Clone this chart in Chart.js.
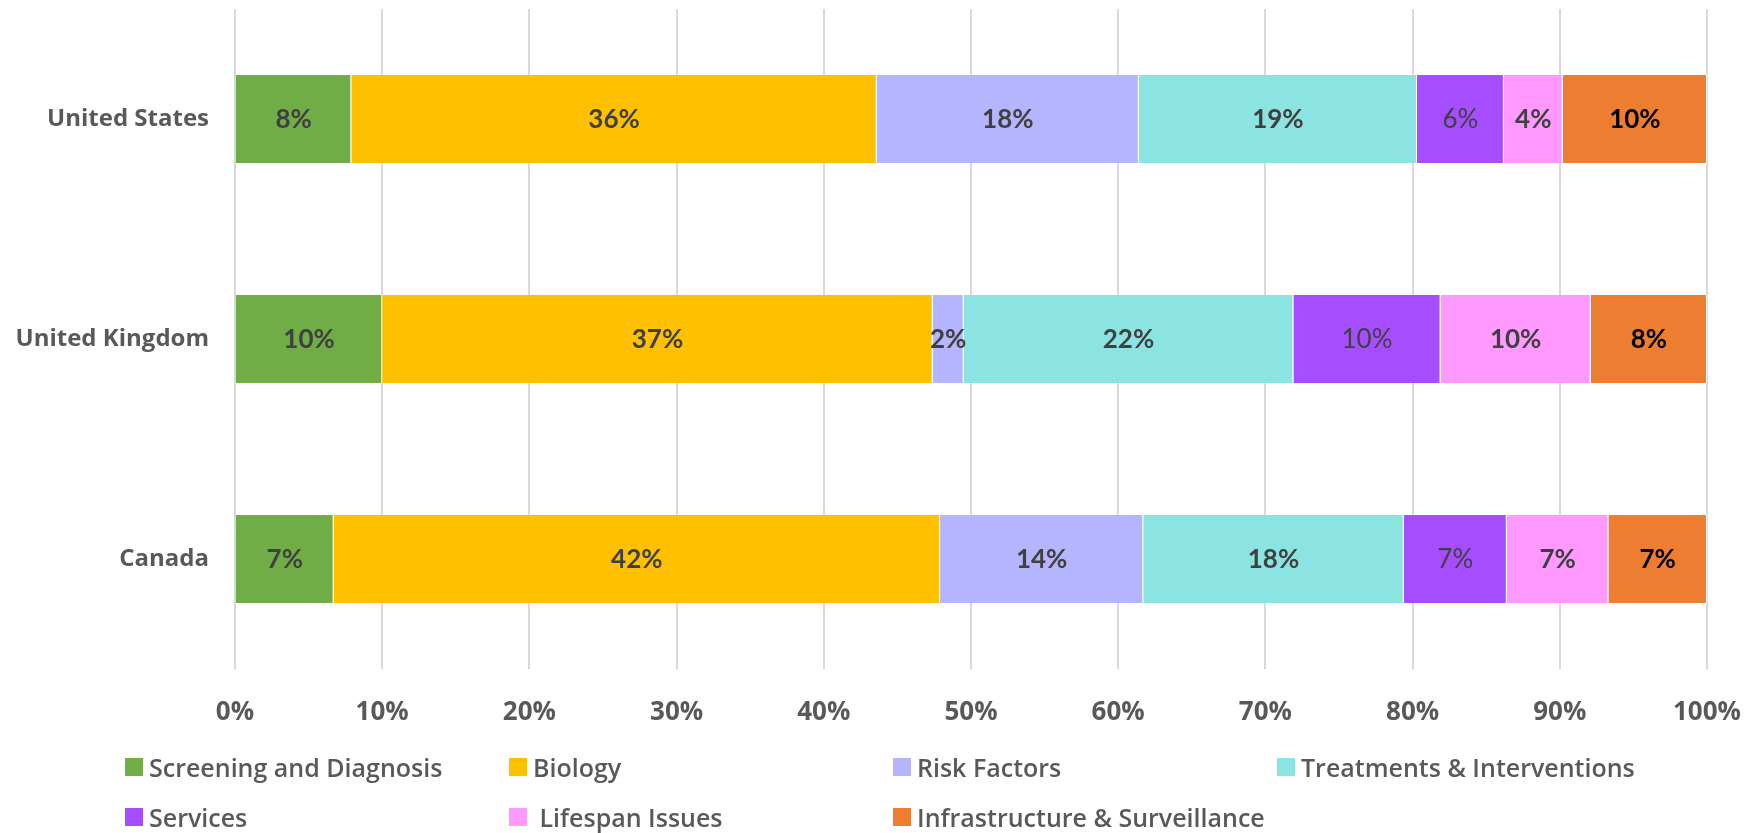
<!DOCTYPE html>
<html lang="en">
<head>
  <meta charset="UTF-8">
  <title>Research Topics by Country</title>
  <script src="https://cdn.jsdelivr.net/npm/chart.js"></script>
  <style>
    body {
      margin: 0;
      background: #ffffff;
      font-family: 'Open Sans', sans-serif;
    }

    .wrap {
      position: relative;
      width: 1762px;
      height: 833px;
    }

    .legend {
      position: absolute;
      left: 125px;
      top: 742px;
      display: grid;
      grid-template-columns: repeat(4, 384px);
      grid-auto-rows: 50px;
    }

    .legend-item {
      display: flex;
      align-items: center;
      font-size: 25px;
      font-weight: 600;
      color: #595959;
      white-space: pre;
    }

    .legend-box {
      width: 18px;
      height: 18px;
      margin-right: 6px;
      flex: none;
    }
  </style>
</head>
<body>

<div class="wrap">
  <canvas id="topicChart" width="1762" height="833"></canvas>
  <div class="legend" id="legend"></div>
</div>

<script>
  // Categories (top to bottom)
  const countries = ['United States', 'United Kingdom', 'Canada'];

  // Series names
  const topics = [
    'Screening and Diagnosis',
    'Biology',
    'Risk Factors',
    'Treatments & Interventions',
    'Services',
    ' Lifespan Issues',
    'Infrastructure & Surveillance'
  ];

  // Share of each topic per country (%), order follows countries
  const screening      = [7.9, 10.0, 6.7];
  const biology        = [35.7, 37.4, 41.2];
  const riskFactors    = [17.8, 2.1, 13.8];
  const treatments     = [18.9, 22.4, 17.7];
  const services       = [5.9, 10.0, 7.0];
  const lifespan       = [4.0, 10.2, 6.9];
  const infrastructure = [9.8, 7.9, 6.7];

  // Data labels as printed on the bars
  const screeningLabels      = ['8%', '10%', '7%'];
  const biologyLabels        = ['36%', '37%', '42%'];
  const riskFactorsLabels    = ['18%', '2%', '14%'];
  const treatmentsLabels     = ['19%', '22%', '18%'];
  const servicesLabels       = ['6%', '10%', '7%'];
  const lifespanLabels       = ['4%', '10%', '7%'];
  const infrastructureLabels = ['10%', '8%', '7%'];

  // Axis ticks
  const xTicks = [0, 10, 20, 30, 40, 50, 60, 70, 80, 90, 100];

  // Styles
  const colors = ['#70AD47', '#FFC000', '#B4B4FF', '#8BE4E2', '#A64DFF', '#FF99FF', '#ED7D31'];
  const labelColors = ['#404040', '#404040', '#404040', '#404040', '#404040', '#404040', '#000000'];
  const labelWeights = ['bold', 'bold', 'bold', 'bold', 'normal', 'bold', 'bold'];

  const values = [screening, biology, riskFactors, treatments, services, lifespan, infrastructure];
  const barLabels = [screeningLabels, biologyLabels, riskFactorsLabels, treatmentsLabels,
                     servicesLabels, lifespanLabels, infrastructureLabels];

  // Draw the percentage in the middle of each segment
  const barLabelPlugin = {
    id: 'barLabels',
    afterDatasetsDraw(chart) {
      const ctx = chart.ctx;
      ctx.save();
      ctx.textAlign = 'center';
      ctx.textBaseline = 'middle';
      chart.data.datasets.forEach((ds, i) => {
        const meta = chart.getDatasetMeta(i);
        ctx.fillStyle = labelColors[i];
        ctx.font = labelWeights[i] + ' 26px Lato, sans-serif';
        meta.data.forEach((bar, j) => {
          const p = bar.getProps(['x', 'base', 'y'], true);
          ctx.fillText(barLabels[i][j], (p.x + p.base) / 2, p.y + 1);
        });
      });
      ctx.restore();
    }
  };

  const ctx = document.getElementById('topicChart').getContext('2d');
  const chart = new Chart(ctx, {
    type: 'bar',
    data: {
      labels: countries,
      datasets: topics.map((name, i) => ({
        label: name,
        data: values[i],
        backgroundColor: colors[i],
        borderColor: '#ffffff',
        borderWidth: { top: 0, bottom: 0, left: 0, right: 1 },
        borderSkipped: false,
        barPercentage: 0.4,
        categoryPercentage: 1
      }))
    },
    options: {
      indexAxis: 'y',
      responsive: false,
      animation: false,
      layout: {
        padding: { top: 9, right: 55, bottom: 84, left: 0 }
      },
      plugins: {
        legend: { display: false },
        tooltip: { enabled: false }
      },
      scales: {
        x: {
          stacked: true,
          min: 0,
          max: 100,
          afterBuildTicks: scale => {
            scale.ticks = xTicks.map(v => ({ value: v }));
          },
          afterFit: scale => {
            scale.height = 80;
            scale.paddingLeft = 0;
            scale.paddingRight = 0;
          },
          grid: { color: '#D9D9D9', lineWidth: 2, drawTicks: false },
          border: { display: false },
          ticks: {
            padding: 28,
            color: '#595959',
            font: { family: 'Open Sans', size: 26, weight: 'bold' },
            callback: v => v + '%'
          }
        },
        y: {
          stacked: true,
          afterFit: scale => {
            scale.width = 235;
            scale.paddingTop = 0;
            scale.paddingBottom = 0;
          },
          grid: { display: false, drawTicks: false },
          border: { display: false },
          ticks: {
            padding: 26,
            color: '#595959',
            font: { family: 'Open Sans', size: 24, weight: 'bold' }
          }
        }
      }
    },
    plugins: [barLabelPlugin]
  });

  // Legend laid out in a fixed grid like the original
  const legend = document.getElementById('legend');
  chart.data.datasets.forEach(ds => {
    const item = document.createElement('div');
    item.className = 'legend-item';
    const box = document.createElement('span');
    box.className = 'legend-box';
    box.style.background = ds.backgroundColor;
    item.appendChild(box);
    item.appendChild(document.createTextNode(ds.label));
    legend.appendChild(item);
  });
</script>

</body>
</html>
